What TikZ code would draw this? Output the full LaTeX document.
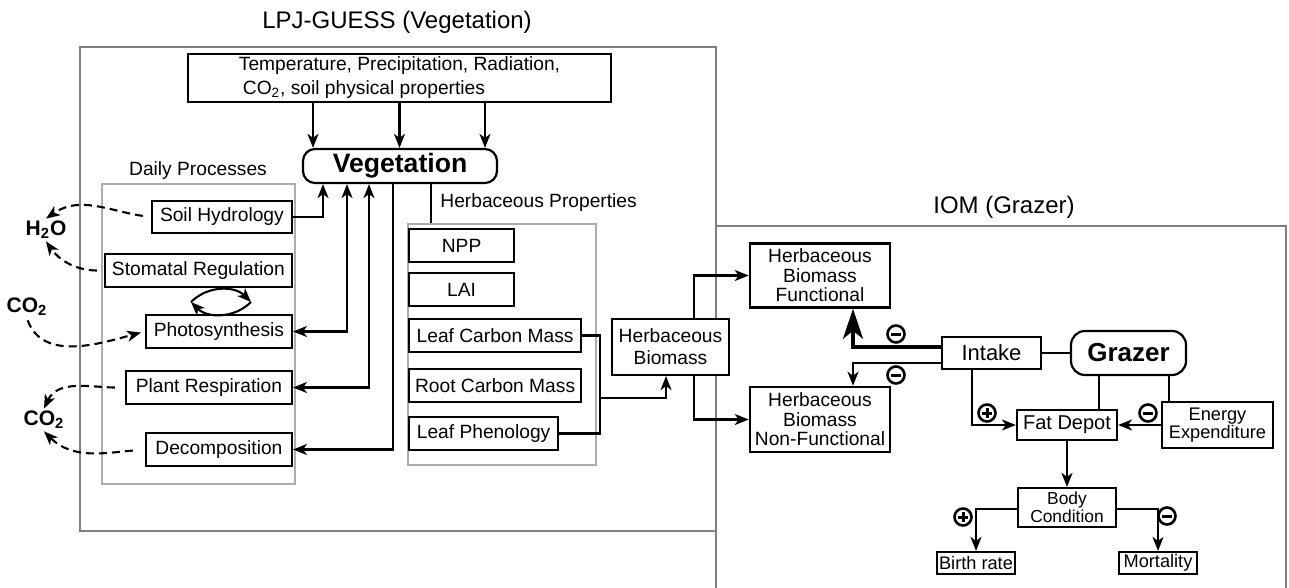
\documentclass[tikz,border=0pt]{standalone}
\usepackage{fontspec}
\setmainfont{Liberation Sans}
\usepackage{tikz}
\usetikzlibrary{shapes,arrows}
\usetikzlibrary{calc,arrows.meta}

\definecolor{framegray}{gray}{0.5}
\definecolor{lightframe}{gray}{0.68}

\tikzset{
	txt/.style={font=\fontsize{9.6}{11}\selectfont, inner sep=0pt},
	box/.style={txt, draw, line width=1.1pt, fill=white, minimum height=16.5pt, align=center},
	proc/.style={box, anchor=east},
	prop/.style={box, anchor=west},
	pool/.style={box, line width=1.3pt, font=\fontsize{9.6}{9.7}\selectfont},
	hub/.style={box, rounded corners=6pt, font=\fontsize{13.3}{14}\selectfont\bfseries},
	frame/.style={draw=framegray, line width=1pt},
	lframe/.style={draw=lightframe, line width=1pt, inner sep=0pt, anchor=north west},
	gas/.style={font=\fontsize{10.5}{12}\selectfont\bfseries, inner sep=1pt},
	link/.style={line width=1.05pt},
	arr/.style={link, -{Stealth[length=7pt,width=5.5pt,inset=2pt]}},
	arrr/.style={link, {Stealth[length=7pt,width=5.5pt,inset=2pt]}-{Stealth[length=7pt,width=5.5pt,inset=2pt]}},
	flux/.style={arr, dash pattern=on 4pt off 2.5pt},
	bigarr/.style={line width=1.7pt, -{Stealth[length=15pt,width=10pt,inset=4pt]}},
	sign/.style={circle, draw, line width=1.3pt, minimum size=8.5pt, inner sep=0pt},
	negsign/.style={sign,
		path picture={\draw[line width=1.5pt] ([xshift=-2.5pt]path picture bounding box.center) -- ([xshift=2.5pt]path picture bounding box.center);}},
	possign/.style={sign,
		path picture={\draw[line width=1.5pt] ([xshift=-2.5pt]path picture bounding box.center) -- ([xshift=2.5pt]path picture bounding box.center) ([yshift=-2.5pt]path picture bounding box.center) -- ([yshift=2.5pt]path picture bounding box.center);}},
}

\begin{document}
\begin{tikzpicture}[x=0.5pt,y=-0.5pt]
	\useasboundingbox (0,0) rectangle (1289,588);

	\draw[frame] (80,47) rectangle (716,531);
	\draw[frame] (716,592) |- (1286,226) -- (1286,592);
	\node[lframe, minimum width=96.5pt, minimum height=150pt] (daily) at (101,183) {};
	\node[lframe, minimum width=94pt, minimum height=120.5pt] (herbprops) at (407,223) {};

	\node[font=\fontsize{12}{14}\selectfont] (lpjtitle) at (397,22) {LPJ-GUESS (Vegetation)};
	\node[font=\fontsize{12}{14}\selectfont] (iomtitle) at (1004,207) {IOM (Grazer)};
	\node[txt] (dailytitle) at (198,171) {Daily Processes};
	\node[txt, anchor=west] (herbtitle) at (440,203) {Herbaceous Properties};

	\node[box, align=left, minimum width=211.5pt, minimum height=24pt, font=\fontsize{9.6}{12}\selectfont] (climate) at (399.5,78)
		{Temperature, Precipitation, Radiation,\\\hspace*{2pt}CO\textsubscript{2}, soil physical properties};
	\node[hub, minimum width=97pt, minimum height=17pt] (veg) at (400,166) {Vegetation};

	\node[proc, minimum width=70pt, minimum height=16pt] (soil) at (293,217) {Soil Hydrology};
	\node[proc, minimum width=93.5pt] (stom) at (293,270.5) {Stomatal Regulation};
	\node[proc, minimum width=73pt] (photo) at (293,331.5) {Photosynthesis};
	\node[proc, minimum width=83pt] (resp) at (293,387.5) {Plant Respiration};
	\node[proc, minimum width=73pt] (decomp) at (293,449.5) {Decomposition};

	\node[prop, minimum width=52.5pt] (npp) at (408,245.5) {NPP};
	\node[prop, minimum width=52.5pt] (lai) at (408,289.5) {LAI};
	\node[prop, minimum width=86pt] (lcm) at (408,335.5) {Leaf Carbon Mass};
	\node[prop, minimum width=86pt] (rcm) at (408,385.5) {Root Carbon Mass};
	\node[prop, minimum width=74.5pt] (phen) at (408,433.5) {Leaf Phenology};

	\node[gas] (h2o) at (46,230) {H\textsubscript{2}O};
	\node[gas] (co2a) at (27,307) {CO\textsubscript{2}};
	\node[gas] (co2b) at (44,420) {CO\textsubscript{2}};

	\node[box, minimum width=58.5pt, minimum height=28pt] (hbio) at (670.5,347) {Herbaceous\\Biomass};
	\node[pool, minimum width=70pt, minimum height=32pt] (hbf) at (820,275.5) {Herbaceous\\Biomass\\Functional};
	\node[pool, minimum width=70pt, minimum height=32.5pt] (hbnf) at (820,419.5) {Herbaceous\\Biomass\\Non-Functional};

	\node[box, minimum width=49.5pt, minimum height=16pt, font=\fontsize{11}{12}\selectfont] (intake) at (991.5,353) {Intake};
	\node[hub, minimum width=57.5pt, minimum height=22pt, rounded corners=7pt, font=\fontsize{13}{14}\selectfont\bfseries] (grazer) at (1128.5,353) {Grazer};
	\node[box, minimum width=50pt, minimum height=15pt, font=\fontsize{10}{11}\selectfont] (fat) at (1067,425) {Fat Depot};
	\node[box, minimum width=55.5pt, minimum height=23pt, font=\fontsize{9.1}{9}\selectfont] (energy) at (1217.5,425) {Energy\\Expenditure};
	\node[box, minimum width=49pt, minimum height=19.5pt, font=\fontsize{8.7}{8.8}\selectfont] (body) at (1067,507.5) {Body\\Condition};
	\node[box, minimum width=39pt, minimum height=11pt, font=\fontsize{9.1}{10}\selectfont] (birth) at (976,563) {Birth rate};
	\node[box, minimum width=39pt, minimum height=11pt, font=\fontsize{9.1}{10}\selectfont] (mort) at (1158,563) {Mortality};

	\node[negsign] (negfun) at (896,334) {};
	\node[negsign] (negnon) at (896,375) {};
	\node[possign] (posintake) at (987,413) {};
	\node[negsign] (negenergy) at (1148,413) {};
	\node[possign] (posbirth) at (963,517) {};
	\node[negsign] (negmort) at (1167,516) {};

	\foreach \dx in {-43.25,0,42.75}
		\draw[arr] ([xshift=\dx pt]climate.south) -- ([xshift=\dx pt]climate.south |- veg.north);
	\draw[arr] (soil.east) -| ([xshift=-38.5pt]veg.south);
	\draw[arrr] (photo.east) -| ([xshift=-26.5pt]veg.south);
	\draw[arrr] (resp.east) -| ([xshift=-15.5pt]veg.south);
	\draw[arr] ([xshift=-3.5pt]veg.south) |- (decomp.east);
	\draw[link] ([xshift=15.5pt]veg.south) -- ([xshift=15.5pt]veg.south |- herbprops.north);

	\coordinate (swapl) at (191,302);
	\coordinate (swapr) at (251,302);
	\draw[arr] (swapl) to[bend left=45] (swapr);
	\draw[arr] (swapr) to[bend left=45] (swapl);

	\draw[flux, shorten <=4pt] (soil.west) to[out=172, in=35] (h2o.north);
	\draw[flux, shorten <=3.5pt] (stom.west) to[out=180, in=-55] (h2o.south);
	\draw[flux, shorten <=1pt, shorten >=2pt] (co2a.south) to[out=-70, in=195] (photo.west);
	\draw[flux, shorten <=5pt] (resp.west) to[out=180, in=65] (co2b.north);
	\draw[flux, shorten <=6pt] (decomp.west) to[out=185, in=-45] (co2b.south);

	\coordinate (herbjoin) at (600,398);
	\draw[link] (lcm.east) -| (herbjoin) |- (phen.east);
	\draw[arr] (herbjoin) -| ([xshift=-2.25pt]hbio.south);
	\draw[arr] ([xshift=11.75pt]hbio.north) |- (hbf.west);
	\draw[arr] ([xshift=11.75pt]hbio.south) |- (hbnf.west);

	\draw[bigarr] ([yshift=3pt]intake.west) -| ([xshift=16.5pt]hbf.south);
	\draw[arr] ([yshift=-5pt]intake.west) -| ([xshift=16.5pt]hbnf.north);
	\draw[link] (intake.east) -- (grazer.west);
	\draw[arr] ([xshift=-9.75pt]intake.south) |- (fat.west);
	\draw[link] ([xshift=-14.75pt]grazer.south) -- ([xshift=-14.75pt]grazer.south |- fat.north);
	\draw[link] ([xshift=20.25pt]grazer.south) -- ([xshift=20.25pt]grazer.south |- energy.north);
	\draw[arr] (energy.west) -- (fat.east);
	\draw[arr] (fat.south) -- (body.north);
	\draw[arr] ([yshift=-0.75pt]body.west) -| (birth.north);
	\draw[arr] ([yshift=-0.75pt]body.east) -| (mort.north);
\end{tikzpicture}
\end{document}
